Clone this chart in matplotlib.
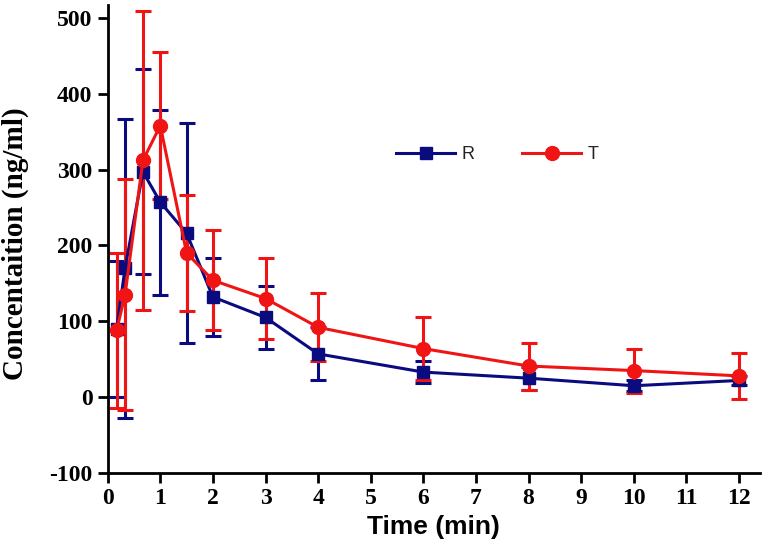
import numpy as np
import matplotlib
matplotlib.use("Agg")
import matplotlib.pyplot as plt
from matplotlib.lines import Line2D

plt.rcParams["axes.unicode_minus"] = False

# sampling times (min)
time = [0.17, 0.33, 0.67, 1, 1.5, 2, 3, 4, 6, 8, 10, 12]

# reference formulation R
r_mean = [90, 170, 297, 257, 216, 132, 105, 57, 33, 25, 15, 22]
r_sd = [90, 197, 135, 122, 145, 52, 42, 35, 15, 15, 7, 6]

# test formulation T
t_mean = [88, 135, 312, 358, 190, 154, 130, 92, 64, 41, 35, 28]
t_sd = [102, 152, 197, 97, 77, 66, 53, 45, 41, 31, 29, 30]

blue = "#0b0b80"
red = "#f01414"

fig = plt.figure(figsize=(7.67, 5.47), dpi=100)
ax = fig.add_axes([0.1404, 0.1353, 0.8506, 0.8557])

ax.errorbar(time, r_mean, yerr=r_sd, color=blue, marker="s", markersize=8,
            linewidth=2.2, elinewidth=2.2, capsize=6, capthick=2.2)
ax.errorbar(time, t_mean, yerr=t_sd, color=red, marker="o", markersize=10,
            linewidth=2.2, elinewidth=2.2, capsize=6, capthick=2.2)

ax.set_xlim(0, 12.4)
ax.set_ylim(-100, 517)
ax.set_xticks(range(0, 13))
ax.set_yticks(range(-100, 501, 100))

for s in ["top", "right"]:
    ax.spines[s].set_visible(False)
for s in ["left", "bottom"]:
    ax.spines[s].set_linewidth(2)
ax.tick_params(direction="out", length=7, width=2, pad=4)

tick_font = matplotlib.font_manager.FontProperties(
    family="Liberation Serif", weight="bold", size=17)
for lab in ax.get_xticklabels() + ax.get_yticklabels():
    lab.set_fontproperties(tick_font)

ax.set_ylabel("Concentaition (ng/ml)", family="Liberation Serif",
              weight="bold", size=21)
ax.yaxis.set_label_coords(-0.12, 0.49)
ax.set_xlabel("Time (min)", family="Liberation Sans", weight="bold",
              size=19, labelpad=4)

handles = [Line2D([], [], color=blue, marker="s", markersize=8, linewidth=2.2),
           Line2D([], [], color=red, marker="o", markersize=10, linewidth=2.2)]
leg = ax.legend(handles, ["R", "T"], loc="center",
                bbox_to_anchor=(0.597, 0.68), ncol=2,
                frameon=False, handlelength=3.3, columnspacing=2.6,
                handletextpad=0.35, prop={"family": "Liberation Sans", "size": 13})
for txt in leg.get_texts():
    txt.set_color("#222222")

fig.savefig("out.png", dpi=100)
